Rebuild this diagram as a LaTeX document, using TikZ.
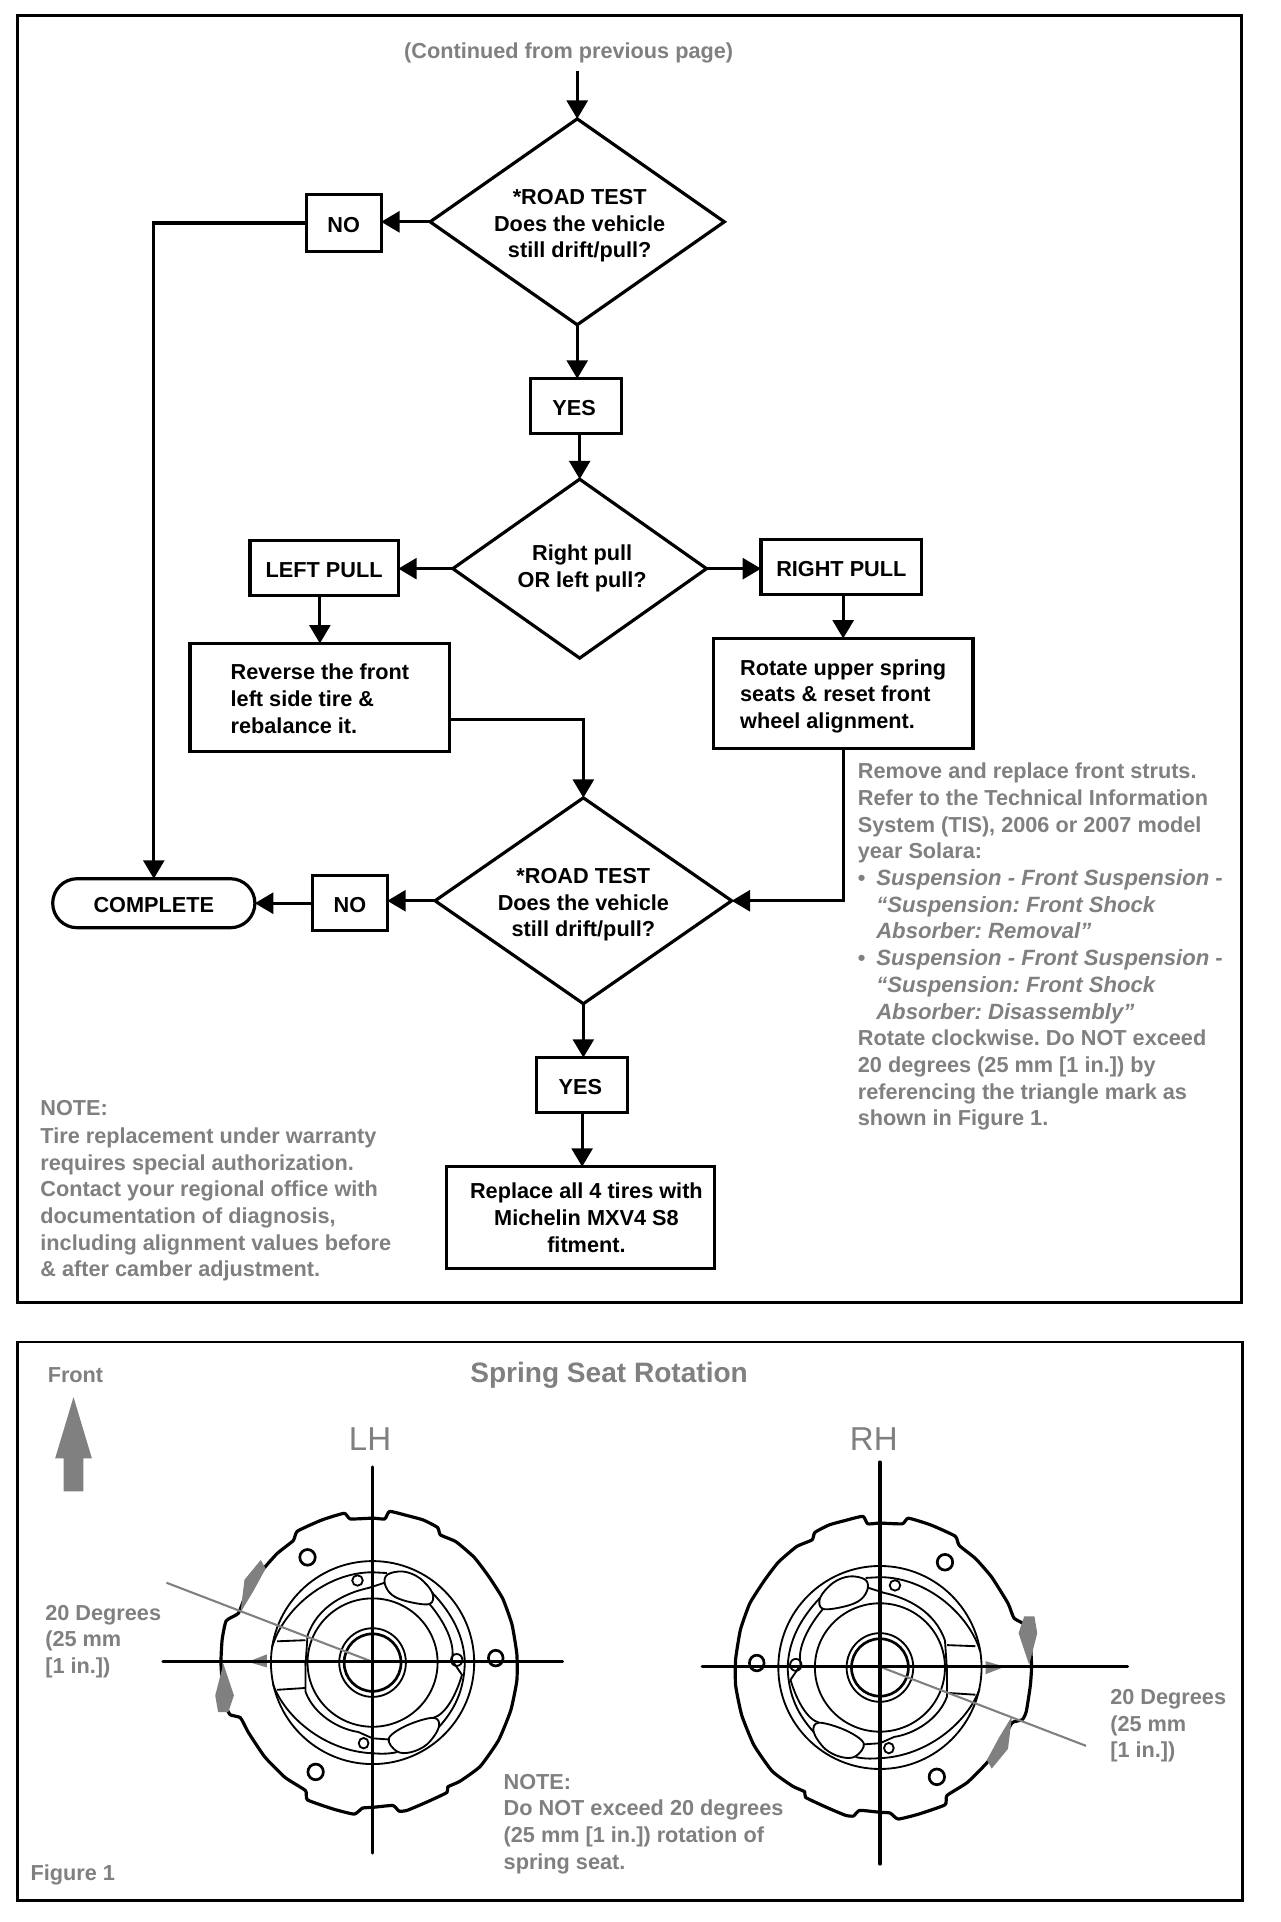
\documentclass[tikz,border=0pt]{standalone}
\usepackage{fontspec}
\setmainfont{Liberation Sans}
\usetikzlibrary{arrows.meta,shapes.geometric,shapes.misc,calc}
\definecolor{dither}{gray}{0.5}
\frenchspacing
\newcommand{\flowfont}{\fontsize{17.7}{21.8}\selectfont\bfseries}
\newcommand{\bigfont}{\fontsize{22.9}{26}\selectfont\bfseries}
\newcommand{\lift}{\rule{0pt}{19pt}}
\newcommand{\ilin}[1]{{\itshape\fontsize{18.05}{21.8}\selectfont #1}}
\newcommand{\seatbody}{%
  \begin{scope}[shift={(-915,-870)}]
  \draw[seatthick] plot[smooth cycle,tension=.3] coordinates {(860,487) (915,485) (945,487) (957,467) (1000,478) (1040,490) (1075,510) (1082,530) (1120,548) (1165,590) (1200,640) (1235,700) (1258,770) (1270,850) (1270,920) (1255,1000) (1225,1080) (1180,1150) (1130,1190) (1100,1205) (1098,1220) (1050,1245) (1000,1268) (980,1270) (965,1255) (915,1260) (890,1262) (870,1278) (820,1265) (755,1240) (750,1215) (700,1180) (650,1125) (610,1060) (590,1020) (565,1012) (555,990) (545,920) (542,870) (545,810) (555,760) (585,740) (600,700) (640,630) (680,580) (720,545) (730,520) (790,490) (845,472)};
  \draw[seatthin] (915,872) ellipse [x radius=250,y radius=272];
  \draw[seatthin] (915,872) ellipse [x radius=160,y radius=172];
  \draw[seatthin] (915,872) ellipse [x radius=82,y radius=92];
  \draw[seatmid] (915,872) ellipse [x radius=70,y radius=77];
  \draw[seatthin] (668,830) .. controls (695,730) and (800,630) .. (915,630) -- (950,632);
  \draw[seatthin] (1062,685) .. controls (1110,740) and (1140,800) .. (1142,872) .. controls (1140,950) and (1115,1000) .. (1078,1045);
  \draw[seatthin] (975,1112) .. controls (950,1118) and (930,1116) .. (915,1115) .. controls (800,1110) and (700,1020) .. (670,930);
  \draw[seatthin] (750,880) -- (755,800) .. controls (780,720) and (850,685) .. (905,672) -- (945,658);
  \draw[seatthin] plot[smooth cycle,tension=.6] coordinates {(945,660) (952,636) (990,628) (1030,645) (1062,685) (1055,715) (1000,708) (962,690)};
  \draw[seatthin] (1055,715) .. controls (1090,760) and (1120,820) .. (1110,865) -- (1135,905) .. controls (1120,960) and (1095,1010) .. (1065,1020);
  \draw[seatthin] plot[smooth cycle,tension=.6] coordinates {(955,1075) (1000,1040) (1065,1020) (1078,1045) (1050,1090) (1010,1112) (975,1110)};
  \draw[seatthin] (955,1078) -- (915,1075) -- (880,1058) .. controls (830,1050) and (770,1010) .. (750,950) -- (750,870);
  \draw[seatthin] (680,815) -- (750,812);
  \draw[seatthin] (680,945) -- (750,940);
  \draw[seatthin] (878,652) circle [x radius=13,y radius=14];
  \draw[seatthin] (893,1088) circle [x radius=12,y radius=14];
  \draw[seatthin] (1122,865) circle [x radius=14,y radius=16];
  \draw[seatmid] (755,590) circle [x radius=19,y radius=21];
  \draw[seatmid] (1218,860) circle [x radius=18,y radius=21];
  \draw[seatmid] (775,1165) circle [x radius=19,y radius=21];
  \end{scope}}
\newcommand{\seatmarks}{%
  \begin{scope}[shift={(-915,-870)}]
  \fill[dither] (590,738) -- (600,650) -- (640,597) -- (652,620) -- (622,680) -- cycle;
  \fill[dither] (548,875) -- (528,960) -- (535,1005) -- (560,1005) -- (574,960) -- cycle;
  \fill[dither] (608,870) -- (655,850) -- (655,885) -- cycle;
  \draw[dither,line width=1.7pt] (915,870) -- (408,658);
  \end{scope}}
\tikzset{
  frame/.style={draw,line width=2.4pt},
  flowbox/.style={draw,line width=2.6pt,inner sep=0pt,outer sep=0pt,font=\flowfont,align=center},
  flowleft/.style={flowbox,align=left},
  textdown/.style={execute at begin node={\rule{0pt}{16pt}}},
  decide/.style={draw,diamond,line width=2.6pt,inner sep=0pt,outer sep=0pt,font=\flowfont,align=center},
  arr/.style={line width=2.6pt,-{Triangle[length=15pt,width=17pt]}},
  note/.style={text=dither,font=\flowfont,align=left,inner sep=0pt,outer sep=0pt,anchor=north west},
  seatthick/.style={line width=2.6pt,line join=round},
  seatmid/.style={line width=2.2pt},
  seatthin/.style={line width=1.5pt},
  cross/.style={line width=2.6pt,line cap=round},
}
\begin{document}
\begin{tikzpicture}[x=1pt,y=-1pt]
\useasboundingbox (0,0) rectangle (1044.5,1568.3);
\fill[white] (0,0) rectangle (1044.5,1568.3);
\draw[frame] (14,13) rectangle (1013,1063);
\draw[frame] (14,1095) rectangle (1014,1551);

\node[text=dither,font=\flowfont,inner sep=0pt] (cont) at (464,43) {(Continued from previous page)};
\node[decide,minimum width=240pt,minimum height=168pt,aspect=1.43] (d1) at (471,181) {\lift\hspace*{4pt}*ROAD TEST\\\hspace*{4pt}Does the vehicle\\\hspace*{4pt}still drift/pull?};
\node[flowbox,textdown,minimum width=61pt,minimum height=46pt] (no1) at (280.5,182) {NO};
\node[flowbox,textdown,minimum width=74pt,minimum height=45pt] (yes1) at (470,331.5) {\hspace*{-3pt}YES};
\node[decide,minimum width=207pt,minimum height=146pt,aspect=1.42] (d2) at (473,464) {\hspace*{4pt}Right pull\\\hspace*{4pt}OR left pull?};
\node[flowbox,textdown,minimum width=121pt,minimum height=45pt] (lp) at (264.5,463.5) {LEFT PULL};
\node[flowbox,textdown,minimum width=131pt,minimum height=45pt] (rp) at (686.5,462.5) {RIGHT PULL};
\node[flowleft,minimum width=212pt,minimum height=88pt] (rev) at (261,569) {\rule{0pt}{15pt}Reverse the front\\left side tire \&\\rebalance it.};
\node[flowleft,minimum width=212pt,minimum height=90pt] (rot) at (688,566) {\rule{0pt}{17pt}Rotate upper spring\\seats \& reset front\\wheel alignment.};
\node[decide,minimum width=242pt,minimum height=168pt,aspect=1.44] (d3) at (476,735) {\lift*ROAD TEST\\Does the vehicle\\still drift/pull?};
\node[flowbox,textdown,minimum width=61pt,minimum height=45pt] (no2) at (285.5,737) {NO};
\node[flowbox,textdown,rounded rectangle,minimum width=165pt,minimum height=40pt] (done) at (125.5,737) {COMPLETE};
\node[flowbox,textdown,minimum width=74pt,minimum height=45pt] (yes2) at (475,885.5) {\hspace*{-3pt}YES};
\node[flowbox,minimum width=219pt,minimum height=83pt] (rep) at (473.5,993.5) {\hspace*{10pt}Replace all 4 tires with\\\hspace*{10pt}Michelin MXV4 S8\\\hspace*{10pt}fitment.};

\coordinate (start) at (471,58);
\draw[arr] (start) -- (d1.north);
\draw[arr] (d1.west) -- (no1.east |- d1.west);
\draw[arr] (no1.west) -| (done.north);
\draw[arr] (d1.south) -- (d1.south |- yes1.north);
\draw[arr] (d2.north |- yes1.south) -- (d2.north);
\draw[arr] (d2.west) -- (lp.east |- d2.west);
\draw[arr] (d2.east) -- (rp.west |- d2.east);
\draw[arr] (rev.north |- lp.south) -- (rev.north);
\draw[arr] (rot.north |- rp.south) -- (rot.north);
\draw[arr] ($(rev.east)+(0,18)$) -| (d3.north);
\draw[arr] (rot.south) |- (d3.east);
\draw[arr] (d3.west) -- (no2.east |- d3.west);
\draw[arr] (no2.west) -- (done.east);
\draw[arr] (d3.south) -- (d3.south |- yes2.north);
\draw[arr] (yes2.south) -- (rep.north -| yes2.south);

\node[note] (rem) at (700,622.5) {Remove and replace front struts.\\
Refer to the Technical Information\\
System (TIS), 2006 or 2007 model\\
year Solara:\\
\makebox[15pt][l]{•}\ilin{Suspension - Front Suspension -}\\
\hspace*{15pt}\ilin{“Suspension: Front Shock}\\
\hspace*{15pt}\ilin{Absorber: Removal”}\\
\makebox[15pt][l]{•}\ilin{Suspension - Front Suspension -}\\
\hspace*{15pt}\ilin{“Suspension: Front Shock}\\
\hspace*{15pt}\ilin{Absorber: Disassembly”}\\
Rotate clockwise. Do NOT exceed\\
20 degrees (25 mm [1 in.]) by\\
referencing the triangle mark as\\
shown in Figure 1.};
\node[note] (warr) at (33,897.5) {NOTE:\\[1.3pt]
Tire replacement under warranty\\
requires special authorization.\\
Contact your regional office with\\
documentation of diagnosis,\\
including alignment values before\\
\& after camber adjustment.};

\node[text=dither,font=\bigfont,inner sep=0pt] (title) at (497,1122) {Spring Seat Rotation};
\node[note,anchor=west] (front) at (39,1122) {Front};
\node[text=dither,font=\fontsize{27}{30}\selectfont,inner sep=0pt] (lh) at (302,1174) {LH};
\node[text=dither,font=\fontsize{27}{30}\selectfont,inner sep=0pt] (rh) at (713,1174) {RH};
\fill[dither] (60,1140) -- (75,1190) -- (68,1190) -- (68,1217) -- (52,1217) -- (52,1190) -- (45,1190) -- cycle;
\node[note] (degl) at (37,1309.5) {20 Degrees\\(25 mm\\[0pt][1 in.])};
\node[note] (degr) at (906,1378.5) {20 Degrees\\(25 mm\\[0pt][1 in.])};
\node[note] (nt) at (411,1447.5) {NOTE:\\Do NOT exceed 20 degrees\\(25 mm [1 in.]) rotation of\\spring seat.};
\node[note,anchor=west] (fig) at (25,1530) {Figure 1};

\begin{scope}[shift={(304pt,-1356pt)},x=.3317pt,y=-.3045pt]
  \seatbody
  \seatmarks
\end{scope}
\begin{scope}[shift={(718pt,-1360pt)},x=-.3317pt,y=-.3045pt]
  \seatbody
\end{scope}
\begin{scope}[shift={(718pt,-1360pt)},x=-.3317pt,y=.3045pt]
  \seatmarks
\end{scope}
\coordinate (lht) at (304,1197); \coordinate (lhb) at (304,1512);
\coordinate (lhl) at (133,1356); \coordinate (lhr) at (459,1356);
\coordinate (rht) at (718,1193); \coordinate (rhb) at (718,1521);
\coordinate (rhl) at (573,1360); \coordinate (rhr) at (920,1360);
\draw[cross] (lht) -- (lhb); \draw[cross] (lhl) -- (lhr);
\draw[cross] (rht) -- (rhb); \draw[cross] (rhl) -- (rhr);
\end{tikzpicture}
\end{document}
